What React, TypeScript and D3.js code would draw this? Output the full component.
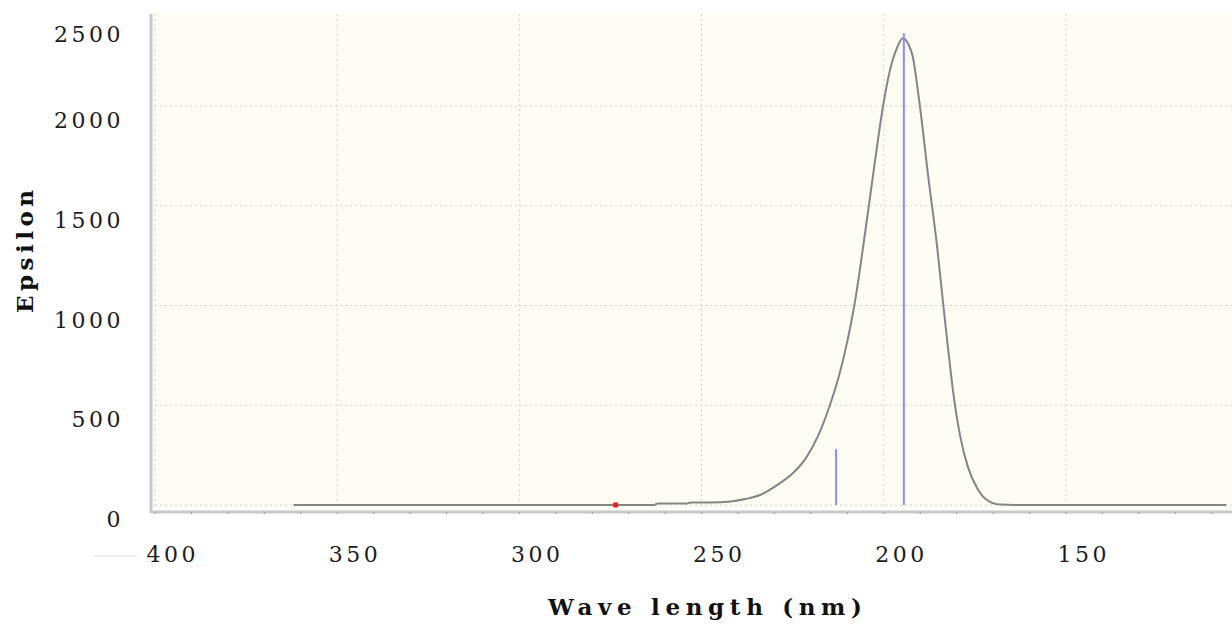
import * as d3 from "d3";
import { useEffect, useRef } from "react";

// spectrum (nm, epsilon)
const wavelengths = [362, 330, 300, 280, 263, 262, 254, 253, 245, 242, 238, 234, 229.3, 224.9, 221.2, 218.2, 214.8, 212.1, 209.9, 207.9, 205.7, 202.9, 200.2, 198.3, 196.4, 194.8, 192.3, 190.1, 187.9, 185.4, 184.0, 182.4, 180.7, 179.1, 176.9, 174.4, 171.7, 168.1, 164, 140, 120, 106];
const epsilon = [0, 0, 0, 0, 0, 8, 8, 12, 14, 18, 30, 50, 100, 160, 240, 340, 500, 660, 830, 1020, 1290, 1660, 2000, 2180, 2290, 2340, 2265, 2000, 1660, 1300, 1060, 790, 530, 350, 190, 85, 25, 2, 0, 0, 0, 0];

// computed transitions (sticks)
const stickWavelengths = [194.5, 213.1];
const stickEpsilon = [2365, 280];

// marker on the baseline
const markerWavelength = [273.6];
const markerEpsilon = [0];

const xTicks = [400, 350, 300, 250, 200, 150];
const xMinorTicks = d3.range(400, 100, -10);
const yTicks = [0, 500, 1000, 1500, 2000, 2500];

const xTitle = "Wave length (nm)";
const yTitle = "Epsilon";

function App() {
	const ref = useRef<SVGSVGElement | null>(null);

	useEffect(() => {
		const width = 1232;
		const height = 624;
		const left = 150;
		const top = 14;
		const plotBottom = 508;
		const axisY = 512;
		const font = "'DejaVu Serif', serif";

		const svg = d3.select(ref.current);
		svg.selectAll("*").remove();
		svg.attr("width", width).attr("height", height);

		const x = d3.scaleLinear().domain([400, 150]).range([155, 1066]);
		const y = d3.scaleLinear().domain([0, 2000]).range([505, 106]);

		// plot background
		svg.append("rect").attr("x", left).attr("y", top).attr("width", width - left).attr("height", plotBottom - top).attr("fill", "#fdfdf4");

		// grid
		const grid = svg.append("g").attr("stroke", "#d6d6d0").attr("stroke-width", 1).attr("stroke-dasharray", "2,3");
		grid.selectAll("line.v").data(xTicks).join("line").attr("class", "v")
			.attr("x1", d => x(d)).attr("x2", d => x(d)).attr("y1", top).attr("y2", plotBottom);
		grid.selectAll("line.h").data(yTicks.filter(d => y(d) > top)).join("line").attr("class", "h")
			.attr("x1", left).attr("x2", width).attr("y1", d => y(d)).attr("y2", d => y(d));

		// curve
		const datum = wavelengths.map((w, i) => [w, epsilon[i]] as [number, number]);
		const curve = d3.line<[number, number]>().x(d => x(d[0])).y(d => y(d[1])).curve(d3.curveMonotoneX);
		svg.append("path").datum(datum).attr("fill", "none").attr("stroke", "#858585").attr("stroke-width", 2).attr("d", curve);

		// sticks
		svg.append("g").selectAll("line").data(stickWavelengths).join("line")
			.attr("x1", d => x(d)).attr("x2", d => x(d))
			.attr("y1", y(0)).attr("y2", (d, i) => y(stickEpsilon[i]))
			.attr("stroke", "#8c8cff").attr("stroke-width", 2);

		// red marker
		svg.append("g").selectAll("rect").data(markerWavelength).join("rect")
			.attr("x", d => x(d) - 2.5).attr("y", (d, i) => y(markerEpsilon[i]) - 2.5)
			.attr("width", 5).attr("height", 5).attr("fill", "#ff1a1a");

		// axes lines
		svg.append("line").attr("x1", 151).attr("x2", 151).attr("y1", top).attr("y2", axisY + 1).attr("stroke", "#c6c6c6").attr("stroke-width", 3);
		svg.append("line").attr("x1", 151).attr("x2", width).attr("y1", axisY).attr("y2", axisY).attr("stroke", "#c8c8c8").attr("stroke-width", 3);
		svg.append("g").selectAll("line").data(xMinorTicks).join("line")
			.attr("x1", d => x(d)).attr("x2", d => x(d)).attr("y1", axisY).attr("y2", axisY + 2)
			.attr("stroke", "#9a9a9a").attr("stroke-width", 1);

		// stray little line left of the 400 label
		svg.append("line").attr("x1", 93).attr("x2", 137).attr("y1", 556).attr("y2", 556).attr("stroke", "#e2e2e2");

		// tick labels
		const ls = 3.5;
		svg.append("g").selectAll("text").data(yTicks).join("text")
			.attr("x", 124).attr("y", d => Math.max(y(d) + 22, 42))
			.attr("text-anchor", "end").attr("font-family", font).attr("font-size", 22)
			.attr("letter-spacing", ls).attr("fill", "#1c1c1c").text(d => d);
		svg.append("g").selectAll("text").data(xTicks).join("text")
			.attr("x", d => x(d) + 16 + ls / 2).attr("y", 562)
			.attr("text-anchor", "middle").attr("font-family", font).attr("font-size", 22)
			.attr("letter-spacing", ls).attr("fill", "#1c1c1c").text(d => d);

		// titles
		svg.append("text").attr("x", 548).attr("y", 615).attr("font-family", font).attr("font-weight", "bold")
			.attr("font-size", 23).attr("textLength", 314).attr("lengthAdjust", "spacing").attr("fill", "#111").text(xTitle);
		svg.append("text").attr("transform", "translate(33,313) rotate(-90)").attr("font-family", font).attr("font-weight", "bold")
			.attr("font-size", 23).attr("textLength", 123).attr("lengthAdjust", "spacing").attr("fill", "#111").text(yTitle);
	}, []);

	return <svg ref={ref} style={{ position: "absolute", left: 0, top: 0, display: "block" }}></svg>;
}

export default App;
